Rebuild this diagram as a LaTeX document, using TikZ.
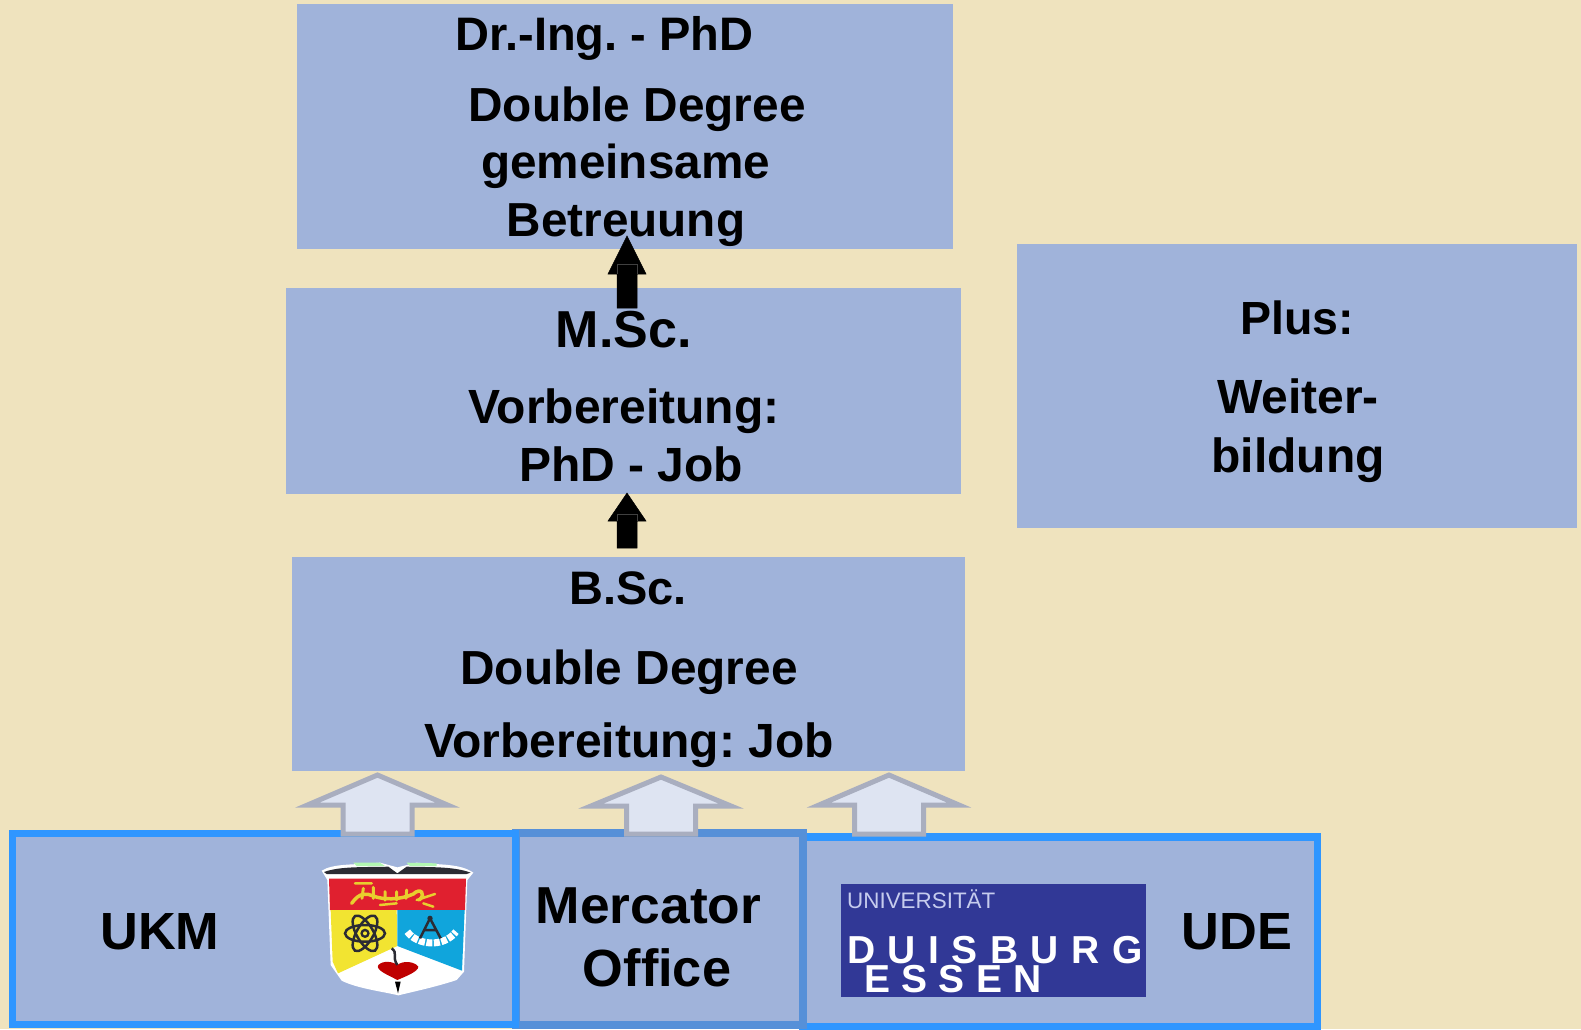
\documentclass[tikz,border=0pt]{standalone}
\usepackage{fontspec}
\setmainfont{Liberation Sans}
\newfontfamily\logoreg{Liberation Sans}
\newfontfamily\logoduis[LetterSpace=32]{Liberation Sans Bold}
\newfontfamily\logoess[LetterSpace=29]{Liberation Sans Bold}
\usetikzlibrary{calc}
\definecolor{bgc}{HTML}{EFE3BE}
\definecolor{boxc}{HTML}{A0B3DA}
\definecolor{brightb}{HTML}{2F96FF}
\definecolor{mercb}{HTML}{5690D8}
\definecolor{arrf}{HTML}{DEE4F2}
\definecolor{arrd}{HTML}{A9AEBF}
\definecolor{logob}{HTML}{313896}
\definecolor{logol}{HTML}{C6CCEE}
\definecolor{sred}{HTML}{E0202F}
\definecolor{syel}{HTML}{F2E431}
\definecolor{sblu}{HTML}{10A5DC}
\definecolor{sdark}{HTML}{2B2B33}
\definecolor{sgold}{HTML}{E8CF2E}
\tikzset{
  x=1pt,y=-1pt,
  plainbox/.style={fill=boxc,draw=none,inner sep=0pt,outer sep=0pt},
  framebox/.style={fill=boxc,draw=#1,line width=7.5pt,inner sep=0pt,outer sep=0pt},
  lab/.style={font=\fontsize{#1}{#1}\selectfont\bfseries\frenchspacing,anchor=base,inner sep=0pt,outer sep=0pt,text=black},
  lightarrow/.style={fill=arrf,draw=arrd,line width=5pt,miter limit=10},
  darkarrow/.style={fill=black,draw=black,line width=.5pt},
}
% tip coordinate, base coordinate, head half width, head length, shaft half width
\newcommand{\blockarrow}[6]{%
  \draw[#1] (#2) -- ($(#2)+(#4,#5)$) -- ($(#2)+(#6,#5)$) -- ($(#3)+(#6,0)$)
    -- ($(#3)+(-#6,0)$) -- ($(#2)+(-#6,#5)$) -- ($(#2)+(-#4,#5)$) -- cycle;}
\begin{document}
\begin{tikzpicture}
\useasboundingbox (0,0) rectangle (1581,1029);
\fill[bgc] (0,0) rectangle (1581,1029);

% upper boxes
\node[plainbox,minimum width=656.5pt,minimum height=245pt] (top) at (624.75,126.5) {};
\node[plainbox,minimum width=675pt,minimum height=206pt] (msc) at (623.5,391) {};
\node[plainbox,minimum width=673pt,minimum height=214pt] (bsc) at (628.5,664) {};
\node[plainbox,minimum width=560pt,minimum height=284pt] (plus) at (1297,386) {};

% lower framed boxes
\node[framebox=brightb,minimum width=514.5pt,minimum height=190pt] (ude) at (1060,932) {};
\node[framebox=mercb,line width=8.5pt,minimum width=287pt,minimum height=192pt] (merc) at (659.5,929) {};
\node[framebox=brightb,line width=7pt,minimum width=503pt,minimum height=191.5pt] (ukm) at (264,929) {};

% labels
\node[lab=47] (t1) at (604.5,50) {Dr.-Ing. - PhD};
\node[lab=47.8] (t2) at (637,121) {Double Degree};
\node[lab=47.7] (t3) at (625.5,178) {gemeinsame};
\node[lab=47.7] (t4) at (626,236) {Betreuung};
\node[lab=52] (m1) at (623.8,347) {M.Sc.};
\node[lab=48] (m2) at (624,423) {Vorbereitung:};
\node[lab=48] (m3) at (631,481) {PhD - Job};
\node[lab=47] (b1) at (628,604) {B.Sc.};
\node[lab=47.8] (b2) at (629,684) {Double Degree};
\node[lab=48] (b3) at (629,757) {Vorbereitung: Job};
\node[lab=46.5] (p1) at (1297,334) {Plus:};
\node[lab=48] (p2) at (1298,413) {Weiter-};
\node[lab=48] (p3) at (1298,472) {bildung};
\node[lab=52.3] (u1) at (160,949) {UKM};
\node[lab=52] (mo1) at (648.5,923) {\scalebox{1.026}[1]{Mercator}};
\node[lab=52.3] (mo2) at (657,986) {Office};
\node[lab=52.3] (u2) at (1237,949) {UDE};

% black arrows
\coordinate (k1t) at (627,236);
\coordinate (k1b) at (627,308);
\coordinate (k2t) at (627,493);
\coordinate (k2b) at (627,548);
\blockarrow{darkarrow}{k1t}{k1b}{19}{38}{10}
\blockarrow{darkarrow}{k2t}{k2b}{19}{28}{10}
\draw[line width=.4pt,draw=black!75] ($(k1t)+(-10,38)$) -- ($(k1t)+(-10,28)$) -- ($(k1t)+(10,28)$) -- ($(k1t)+(10,38)$);
\draw[line width=.4pt,draw=black!75] ($(k2t)+(-10,28)$) -- ($(k2t)+(-10,21)$) -- ($(k2t)+(10,21)$) -- ($(k2t)+(10,28)$);

% light arrows
\coordinate (a1t) at (377.5,775);
\coordinate (a1b) at (377.5,834);
\coordinate (a2t) at (661,777);
\coordinate (a2b) at (661,834);
\coordinate (a3t) at (889,775);
\coordinate (a3b) at (889,834);
\blockarrow{lightarrow}{a1t}{a1b}{70}{30}{34.5}
\blockarrow{lightarrow}{a2t}{a2b}{70}{29}{34.5}
\blockarrow{lightarrow}{a3t}{a3b}{70}{30}{34.5}

% UDE logo
\node[fill=logob,inner sep=0pt,outer sep=0pt,minimum width=305pt,minimum height=113pt] (udelogo) at (993.5,940.5) {};
\node[anchor=base west,inner sep=0pt,text=logol,font=\logoreg\fontsize{22.4}{22.4}\selectfont] (lg1) at (847,908) {UNIVERSIT\"AT};
\node[anchor=base west,inner sep=0pt,text=white,font=\logoduis\fontsize{39}{39}\selectfont] (lg2) at (847,963) {DUISBURG};
\node[anchor=base west,inner sep=0pt,text=white,font=\logoess\fontsize{39}{39}\selectfont] (lg3) at (864,992) {ESSEN};

% UKM shield
\begin{scope}[shift={(310,850)},xscale=1/3,yscale=1/3]
  % white outline
  \fill[white] (35,62) .. controls (70,40) and (130,45) .. (210,38) -- (262,52) -- (320,38)
     .. controls (390,45) and (450,40) .. (490,68) -- (472,90) -- (462,365) -- (440,390)
     .. controls (380,410) and (310,425) .. (265,436) .. controls (220,425) and (140,415) .. (95,392)
     -- (62,345) -- (52,90) -- cycle;
  % banner
  \fill[sdark] (42,66) .. controls (90,48) and (170,52) .. (235,50) -- (262,70) -- (290,50)
     .. controls (350,52) and (430,48) .. (482,68) -- (470,72) -- (50,72) -- cycle;
  \fill[black!10!green!30!white] (130,38) -- (210,38) -- (225,48) -- (140,48) -- cycle;
  \fill[black!10!green!30!white] (290,38) -- (380,40) -- (380,48) -- (300,48) -- cycle;
  % fields
  \fill[sred] (57,86) -- (468,86) -- (465,180) -- (60,180) -- cycle;
  \fill[syel] (62,180) -- (260,180) -- (262,288) -- (84,370) -- (68,335) -- cycle;
  \fill[sblu] (262,180) -- (464,180) -- (456,362) -- (262,288) -- cycle;
  % tiger
  \draw[sgold,line width=3.5pt,line cap=round] (125,160) .. controls (150,125) and (170,130) .. (190,138)
     .. controls (220,150) and (270,150) .. (310,132) .. controls (330,112) and (350,130) .. (328,150);
  \draw[sgold,line width=3pt,line cap=round] (160,115) -- (156,145) (190,112) -- (190,145) (225,125) -- (225,150) (260,125) -- (260,150) (290,120) -- (288,145);
  \draw[sgold,line width=2.5pt,line cap=round] (210,165) -- (260,160) (320,150) -- (375,132) (340,160) -- (370,170) (135,100) -- (185,100);
  % atom
  \draw[sdark,line width=2.5pt] (165,250) ellipse [x radius=60,y radius=25];
  \draw[sdark,line width=2.5pt,rotate around={60:(165,250)}] (165,250) ellipse [x radius=60,y radius=25];
  \draw[sdark,line width=2.5pt,rotate around={120:(165,250)}] (165,250) ellipse [x radius=60,y radius=25];
  \fill[sdark] (165,250) circle [radius=14];
  \fill[syel] (165,250) circle [radius=6];
  % gear and compass
  \draw[white,line width=7pt,dash pattern=on 6pt off 1.5pt] (292,245) .. controls (320,285) and (400,295) .. (438,245);
  \draw[sdark,line width=2.5pt] (360,205) -- (330,265) (360,205) -- (392,265) (342,240) -- (380,240);
  \fill[sdark] (360,205) circle [radius=8];
  % white chevron field
  \fill[white] (84,372) -- (262,290) -- (446,364) -- (420,386) .. controls (360,405) and (310,420) .. (265,432)
     .. controls (220,420) and (150,405) .. (108,392) -- cycle;
  % heart
  \fill[red!75!black] (262,390) .. controls (235,375) and (195,360) .. (205,345) .. controls (220,330) and (250,335) .. (262,345)
     .. controls (280,330) and (315,335) .. (325,350) .. controls (325,365) and (285,380) .. (262,390) -- cycle;
  \fill[black] (255,395) -- (272,395) -- (264,430) -- cycle;
  \draw[sdark,line width=2.5pt] (245,295) .. controls (265,310) and (245,320) .. (262,345);
\end{scope}
\end{tikzpicture}
\end{document}
